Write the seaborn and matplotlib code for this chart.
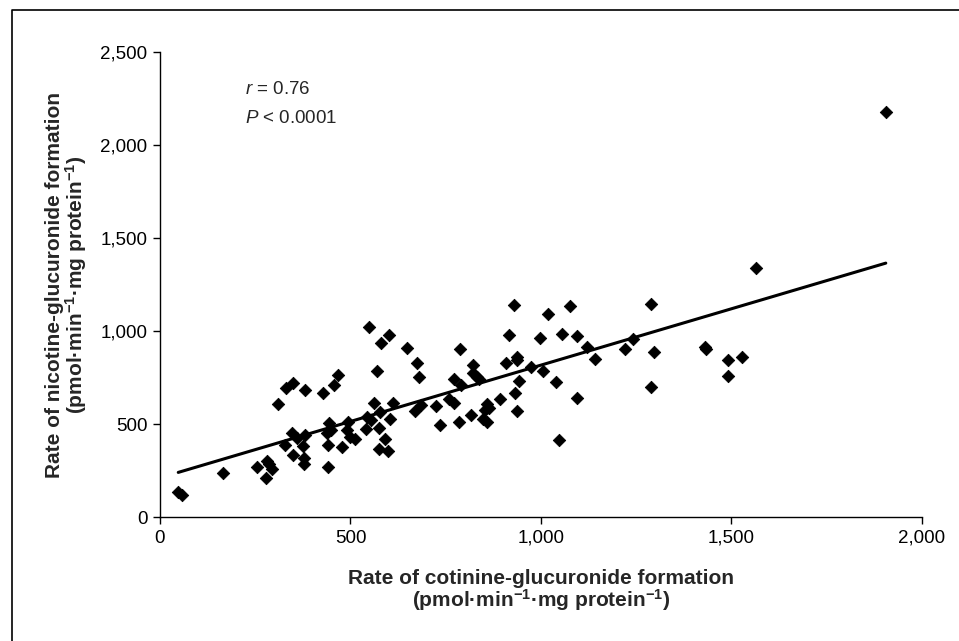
import numpy as np
import pandas as pd
import matplotlib
matplotlib.use("Agg")
import matplotlib.pyplot as plt
import seaborn as sns

# cotinine-glucuronide formation rate (x) vs nicotine-glucuronide formation rate (y)
cotinine = [48, 58, 165, 255, 278, 281, 286, 294, 310, 331, 349, 381, 346, 328, 360,
            375, 381, 349, 378, 378,
            549, 580, 601, 648, 675, 680, 570, 428, 457, 467, 562, 577, 612, 604, 543,
            554, 541, 575, 591, 575, 598, 669, 685, 724, 444, 449, 438, 493, 491, 499,
            512, 441, 478, 441,
            916, 787, 822, 908, 937, 937, 772, 790, 822, 832, 837, 974, 942, 932, 892,
            759, 772, 858, 864, 853, 816, 937, 735, 785, 848, 858,
            1076, 1018, 1289, 997, 1055, 1094, 1120, 1142, 1220, 1241, 1297, 1005, 1039,
            1094, 1289, 1047,
            929, 1430, 1433, 1491, 1528, 1491, 1564, 1905]
nicotine = [135, 120, 237, 269, 210, 301, 285, 258, 608, 694, 720, 683, 452, 387, 425,
            382, 441, 333, 317, 285,
            1021, 935, 978, 909, 828, 753, 785, 667, 710, 763, 613, 565, 613, 527, 538,
            522, 473, 478, 419, 366, 355, 570, 602, 597, 505, 468, 452, 511, 468, 430,
            419, 387, 376, 269,
            978, 903, 817, 828, 860, 844, 742, 710, 774, 753, 742, 806, 731, 667, 634,
            634, 613, 608, 586, 575, 548, 570, 495, 511, 527, 511,
            1134, 1091, 1145, 962, 984, 973, 914, 849, 903, 957, 887, 785, 726,
            640, 699, 414,
            1140, 914, 903, 844, 860, 758, 1339, 2177]

x_ticks = [0, 500, 1000, 1500, 2000]
y_ticks = [0, 500, 1000, 1500, 2000, 2500]

df = pd.DataFrame({"cotinine": cotinine, "nicotine": nicotine})

sns.set_style("ticks")
plt.rcParams["font.family"] = ["Liberation Sans", "DejaVu Sans"]
plt.rcParams["mathtext.fontset"] = "custom"
plt.rcParams["mathtext.rm"] = "Liberation Sans"
plt.rcParams["mathtext.bf"] = "Liberation Sans:bold"
plt.rcParams["mathtext.it"] = "Liberation Sans:italic"

fig = plt.figure(figsize=(9.59, 6.41), dpi=100)
ax = fig.add_axes([0.1668, 0.1934, 0.7946, 0.7254])

sns.regplot(data=df, x="cotinine", y="nicotine", ax=ax, ci=None, marker="D",
            color="black",
            scatter_kws={"s": 40, "alpha": 1, "edgecolor": "black", "linewidths": 0.6},
            line_kws={"color": "black", "lw": 2.2})

ax.set_xlim(0, 2000)
ax.set_ylim(0, 2500)
ax.set_xticks(x_ticks)
ax.set_yticks(y_ticks)
ax.set_xticklabels([f"{v:,}" for v in x_ticks])
ax.set_yticklabels([f"{v:,}" for v in y_ticks])
ax.tick_params(axis="both", direction="out", length=5, width=1, colors="black",
               labelsize=13.5, pad=4)
for side in ["top", "right"]:
    ax.spines[side].set_visible(False)
for side in ["left", "bottom"]:
    ax.spines[side].set_color("black")
    ax.spines[side].set_linewidth(1)

unit = r"(pmol·min$^{\mathbf{-1}}$·mg protein$^{\mathbf{-1}}$)"
ax.set_xlabel("Rate of cotinine-glucuronide formation\n" + unit,
              fontsize=15, fontweight="bold", labelpad=16, linespacing=0.95)
ax.set_ylabel("Rate of nicotine-glucuronide formation\n" + unit,
              fontsize=15, fontweight="bold", labelpad=8, linespacing=0.95)

ax.text(0.111, 0.92, r"$\it{r}$ = 0.76", transform=ax.transAxes, fontsize=13.5, va="center")
ax.text(0.111, 0.857, r"$\it{P}$ < 0.0001", transform=ax.transAxes, fontsize=13.5, va="center")

# frame line on the left and top edges of the figure
fig.add_artist(plt.Line2D([12 / 959, 12 / 959, 1.0], [0.0, 1 - 10 / 641, 1 - 10 / 641],
                          transform=fig.transFigure, color="black", lw=1.2))

fig.savefig("out.png", dpi=100)
